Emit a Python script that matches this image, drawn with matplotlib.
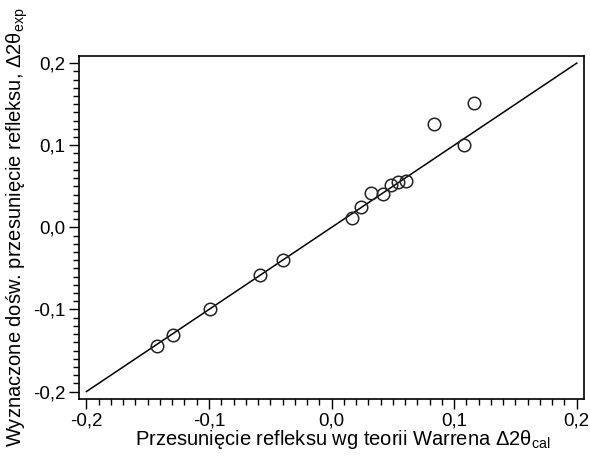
import numpy as np
import matplotlib.pyplot as plt
from matplotlib.ticker import MultipleLocator, FuncFormatter

plt.rcParams['font.family'] = ['Liberation Sans', 'DejaVu Sans']

# calculated (Warren theory) vs. measured peak shift
shift_cal = [-0.1426, -0.1290, -0.0992, -0.0587, -0.0397, 0.0163, 0.0242, 0.0323,
             0.0418, 0.0481, 0.0543, 0.0606, 0.0834, 0.1078, 0.1160]
shift_exp = [-0.1446, -0.1307, -0.0996, -0.0583, -0.0396, 0.0110, 0.0252, 0.0422,
             0.0406, 0.0515, 0.0551, 0.0559, 0.1256, 0.1005, 0.1520]
diag = [-0.2, 0.2]

fig = plt.figure(figsize=(5.9, 4.57), dpi=100)
ax = fig.add_axes([0.134, 0.127, 0.856, 0.751])

ax.plot(diag, diag, color='black', lw=1.1)
ax.plot(shift_cal, shift_exp, 'o', mfc='none', mec='#222222', mew=1.1, ms=9)

ax.set_xlim(-0.206, 0.206)
ax.set_ylim(-0.209, 0.209)

fmt = FuncFormatter(lambda v, p: f"{v:.1f}".replace('.', ','))
for axis in (ax.xaxis, ax.yaxis):
    axis.set_major_locator(MultipleLocator(0.1))
    axis.set_minor_locator(MultipleLocator(0.01))
    axis.set_major_formatter(fmt)

ax.tick_params(which='both', direction='out', top=False, right=False,
               labelsize=13.5, width=1)
ax.tick_params(which='major', length=7, pad=3)
ax.tick_params(which='minor', length=4)
for s in ax.spines.values():
    s.set_linewidth(1.2)

ax.set_xlabel("Przesunięcie refleksu wg teorii Warrena Δ2θ$_\\mathregular{cal}$",
              fontsize=14.5)
ax.xaxis.set_label_coords(0.522, -0.085)
ax.set_ylabel("Wyznaczone dośw. przesunięcie refleksu, Δ2θ$_\\mathregular{exp}$",
              fontsize=14.5, labelpad=2)

fig.savefig("out.png", dpi=100)
